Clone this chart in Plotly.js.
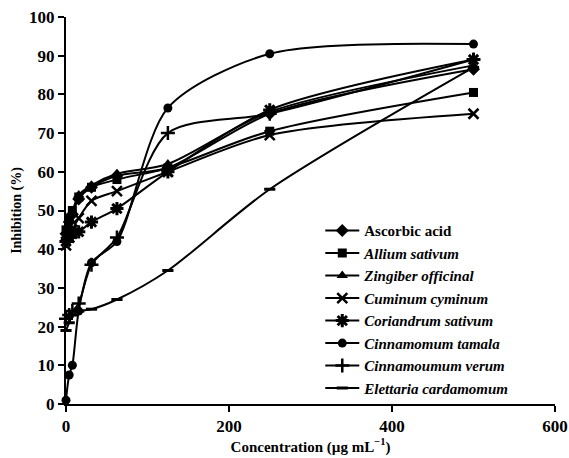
<!DOCTYPE html>
<html><head><meta charset="utf-8">
<script src="https://cdn.plot.ly/plotly-3.0.1.min.js"></script>
<style>html,body{margin:0;padding:0;background:#fff}#chart{width:569px;height:458px}</style>
</head><body><div id="chart"></div>
<script>
const concentration = [0, 3.9, 7.8, 15.6, 31.25, 62.5, 125, 250, 500];
const ascorbicAcid = [44, 47, 49, 53, 56, 59, 61, 75, 86.5];
const alliumSativum = [45, 48, 50, 53.5, 56, 58, 61, 70.5, 80.5];
const zingiberOfficinal = [43, 46, 49, 54, 56.5, 59.5, 62, 75.5, 87.5];
const cuminumCyminum = [41, 43, 45, 48, 52.5, 55, 60, 69.5, 75];
const coriandrumSativum = [42, 43, 44, 44.5, 47, 50.5, 60, 76, 89];
const cinnamomumTamala = [1, 7.5, 10, 24, 36.5, 42, 76.5, 90.5, 93];
const cinnamoumumVerum = [22, 23, 24, 26, 36, 43, 70, 75, 89];
const elettariaCardamomum = [19, 21, 23, 24, 24.5, 27, 34.5, 55.5, 87];
const seriesNames = ['Ascorbic acid', '<i>Allium sativum</i>', '<i>Zingiber officinal</i>', '<i>Cuminum cyminum</i>',
  '<i>Coriandrum sativum</i>', '<i>Cinnamomum tamala</i>', '<i>Cinnamoumum verum</i>', '<i>Elettaria cardamomum</i>'];
const seriesValues = [ascorbicAcid, alliumSativum, zingiberOfficinal, cuminumCyminum, coriandrumSativum,
  cinnamomumTamala, cinnamoumumVerum, elettariaCardamomum];
const xTicks = [0, 200, 400, 600];
const yTicks = [0, 10, 20, 30, 40, 50, 60, 70, 80, 90, 100];

const markerStyles = [
  {symbol: 'diamond', size: 10},
  {symbol: 'square', size: 9},
  {symbol: 'triangle-up', size: 10},
  {symbol: 'x-thin-open', size: 10, line: {width: 2.5, color: '#000'}},
  {symbol: 'asterisk-open', size: 11, line: {width: 3, color: '#000'}},
  {symbol: 'circle', size: 9},
  {symbol: 'cross-thin-open', size: 10, line: {width: 2.5, color: '#000'}},
  {symbol: 'line-ew-open', size: 8, line: {width: 3, color: '#000'}}
];

const traces = seriesValues.map((vals, i) => ({
  x: concentration, y: vals, name: seriesNames[i], type: 'scatter', mode: 'lines+markers',
  cliponaxis: false,
  line: {color: '#000', width: 2, shape: 'spline', smoothing: 0.8},
  marker: Object.assign({color: '#000'}, markerStyles[i])
}));

const font = {family: 'Liberation Serif, Times New Roman, serif', color: '#000'};
const layout = {
  width: 569, height: 458,
  margin: {l: 66, r: 14, t: 17, b: 54},
  paper_bgcolor: '#fff', plot_bgcolor: '#fff',
  showlegend: true,
  legend: {x: 0.52, y: 0.49, xanchor: 'left', yanchor: 'top', bgcolor: 'rgba(0,0,0,0)',
    font: Object.assign({size: 15, weight: 'bold'}, font), itemwidth: 34, tracegroupgap: 0},
  xaxis: {range: [0, 600], tickvals: xTicks, ticktext: xTicks.map(String), showgrid: false, zeroline: false,
    showline: true, linecolor: '#000', linewidth: 2, ticks: 'outside', ticklen: 6, tickwidth: 2, tickcolor: '#000',
    tickfont: Object.assign({size: 17, weight: 'bold'}, font),
    title: {text: 'Concentration (µg mL<sup>−1</sup>)', font: Object.assign({size: 15, weight: 'bold'}, font), standoff: 3}},
  yaxis: {range: [0, 100], tickvals: yTicks, ticktext: yTicks.map(String), showgrid: false, zeroline: false,
    showline: true, linecolor: '#000', linewidth: 2, ticks: 'outside', ticklen: 6, tickwidth: 2, tickcolor: '#000',
    tickfont: Object.assign({size: 17, weight: 'bold'}, font),
    title: {text: 'Inhibition (%)', font: Object.assign({size: 14, weight: 'bold'}, font), standoff: 4}}
};
Plotly.newPlot('chart', traces, layout, {displayModeBar: false, staticPlot: true});
</script></body></html>
